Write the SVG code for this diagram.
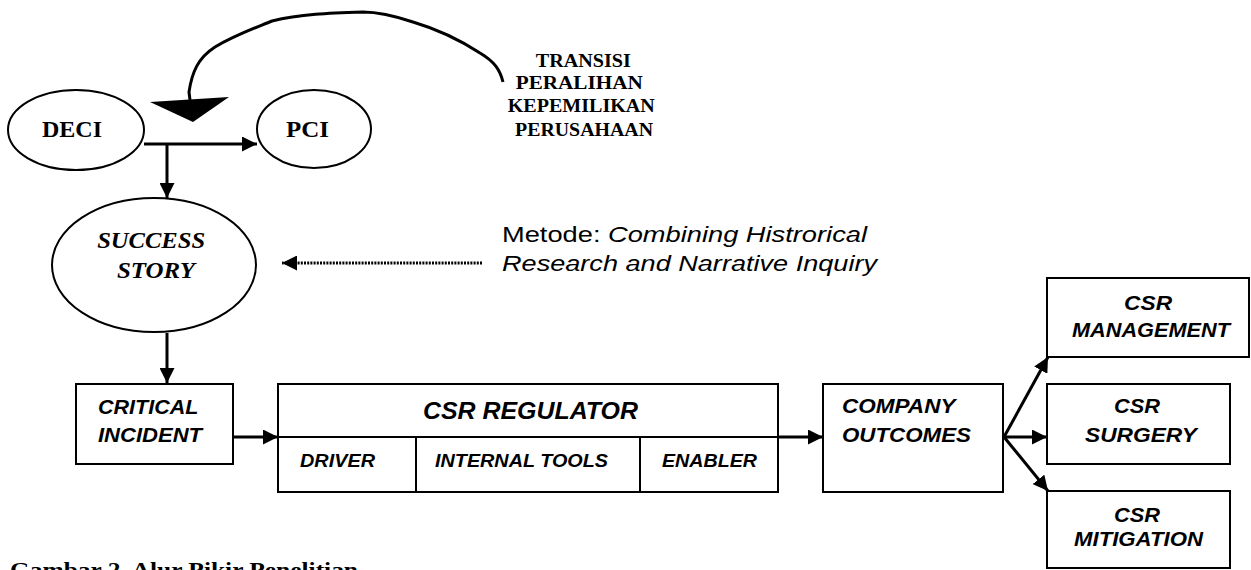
<svg xmlns="http://www.w3.org/2000/svg" width="1251" height="570" viewBox="0 0 1251 570">
<defs>
<style>
.shape{fill:#fff;stroke:#000;stroke-width:2}
.serif{font-family:"Liberation Serif","Times New Roman",serif;font-weight:bold;fill:#000}
.sans{font-family:"Liberation Sans",Arial,sans-serif;font-weight:bold;font-style:italic;fill:#000}
.plain{font-family:"Liberation Sans",Arial,sans-serif;fill:#000}
.con{fill:none;stroke:#000;stroke-width:3}
</style>
<marker id="ah" markerUnits="userSpaceOnUse" markerWidth="15" markerHeight="15" refX="15" refY="7.5" orient="auto">
<path d="M0,0 L15,7.5 L0,15 z" fill="#000"/>
</marker>
</defs>
<rect width="1251" height="570" fill="#fff"/>

<g id="connectors">
<path class="con" d="M144,144 H257" marker-end="url(#ah)"/>
<path class="con" d="M167,144 V198" marker-end="url(#ah)"/>
<path class="con" d="M167,333 V383" marker-end="url(#ah)"/>
<path class="con" d="M233,437 H278" marker-end="url(#ah)"/>
<path class="con" d="M778,437 H823" marker-end="url(#ah)"/>
<path class="con" d="M1004,437 L1048,357" stroke-width="4" marker-end="url(#ah)"/>
<path class="con" d="M1004,437 H1047" marker-end="url(#ah)"/>
<path class="con" d="M1004,437 L1048,491" stroke-width="2" marker-end="url(#ah)"/>
<path class="con" d="M482,263 H282" stroke-width="2.5" stroke-dasharray="2,1.2" marker-end="url(#ah)"/>
<path class="con" d="M190,100 L189,92 C192,72 198,58 215,47 C235,35 255,28 272,21 C300,14 330,13 363,12 C380,12 395,16 413,22 C440,30 460,40 480,53 C495,62 500,70 503,82" stroke-width="2"/>
<polygon points="150,102 229,97 193,122" fill="#000"/>
</g>

<g id="deci">
<ellipse class="shape" cx="76" cy="130" rx="68" ry="40"/>
<text class="serif" x="72" y="137" font-size="23" text-anchor="middle" textLength="60" lengthAdjust="spacingAndGlyphs">DECI</text>
</g>
<g id="pci">
<ellipse class="shape" cx="314" cy="129" rx="57" ry="39"/>
<text class="serif" x="307.5" y="137" font-size="23" text-anchor="middle" textLength="43" lengthAdjust="spacingAndGlyphs">PCI</text>
</g>
<g id="transisi">
<text class="serif" font-size="18" text-anchor="middle">
<tspan x="585.5" y="67" textLength="95" lengthAdjust="spacingAndGlyphs">TRANSISI</tspan>
<tspan x="581.5" y="89" textLength="127" lengthAdjust="spacingAndGlyphs">PERALIHAN</tspan>
<tspan x="583.5" y="112" textLength="147" lengthAdjust="spacingAndGlyphs">KEPEMILIKAN</tspan>
<tspan x="584" y="136" textLength="138" lengthAdjust="spacingAndGlyphs">PERUSAHAAN</tspan>
</text>
</g>
<g id="success-story">
<ellipse class="shape" cx="154" cy="265" rx="102" ry="67"/>
<text class="serif" font-size="23" font-style="italic" text-anchor="middle">
<tspan x="154" y="248" textLength="108" lengthAdjust="spacingAndGlyphs">SUCCESS</tspan>
<tspan x="156" y="278" textLength="78" lengthAdjust="spacingAndGlyphs">STORY</tspan>
</text>
</g>
<g id="metode">
<text class="plain" x="502" y="242" font-size="22" textLength="365" lengthAdjust="spacingAndGlyphs">Metode: <tspan font-style="italic">Combining Histrorical</tspan></text>
<text class="plain" x="502" y="271" font-size="22" font-style="italic" textLength="375" lengthAdjust="spacingAndGlyphs">Research and Narrative Inquiry</text>
</g>
<g id="critical-incident">
<rect class="shape" x="76" y="384" width="157" height="80"/>
<text class="sans" font-size="21">
<tspan x="98" y="414" textLength="100" lengthAdjust="spacingAndGlyphs">CRITICAL</tspan>
<tspan x="98" y="442" textLength="104" lengthAdjust="spacingAndGlyphs">INCIDENT</tspan>
</text>
</g>
<g id="csr-regulator">
<rect class="shape" x="278" y="384" width="500" height="108"/>
<line x1="278" y1="437" x2="778" y2="437" stroke="#000" stroke-width="2"/>
<line x1="416" y1="437" x2="416" y2="492" stroke="#000" stroke-width="2"/>
<line x1="640" y1="437" x2="640" y2="492" stroke="#000" stroke-width="2"/>
<text class="sans" x="423" y="419" font-size="23" textLength="215" lengthAdjust="spacingAndGlyphs">CSR REGULATOR</text>
<text class="sans" x="300" y="467" font-size="18" textLength="75" lengthAdjust="spacingAndGlyphs">DRIVER</text>
<text class="sans" x="435" y="467" font-size="18" textLength="173" lengthAdjust="spacingAndGlyphs">INTERNAL TOOLS</text>
<text class="sans" x="662" y="467" font-size="18" textLength="95" lengthAdjust="spacingAndGlyphs">ENABLER</text>
</g>
<g id="company-outcomes">
<rect class="shape" x="823" y="384" width="180" height="108"/>
<text class="sans" font-size="21">
<tspan x="842" y="413" textLength="113" lengthAdjust="spacingAndGlyphs">COMPANY</tspan>
<tspan x="842" y="442" textLength="129" lengthAdjust="spacingAndGlyphs">OUTCOMES</tspan>
</text>
</g>
<g id="csr-management">
<rect class="shape" x="1047" y="278" width="202" height="79"/>
<text class="sans" font-size="21" text-anchor="middle">
<tspan x="1151" y="310" textLength="48" lengthAdjust="spacingAndGlyphs">CSR</tspan>
<tspan x="1151" y="337" textLength="158" lengthAdjust="spacingAndGlyphs">MANAGEMENT</tspan>
</text>
</g>
<g id="csr-surgery">
<rect class="shape" x="1047" y="384" width="183" height="80"/>
<text class="sans" font-size="21" text-anchor="middle">
<tspan x="1140" y="413" textLength="46" lengthAdjust="spacingAndGlyphs">CSR</tspan>
<tspan x="1141" y="442" textLength="112" lengthAdjust="spacingAndGlyphs">SURGERY</tspan>
</text>
</g>
<g id="csr-mitigation">
<rect class="shape" x="1047" y="491" width="183" height="77"/>
<text class="sans" font-size="21" text-anchor="middle">
<tspan x="1140" y="522" textLength="46" lengthAdjust="spacingAndGlyphs">CSR</tspan>
<tspan x="1138.5" y="546" textLength="129" lengthAdjust="spacingAndGlyphs">MITIGATION</tspan>
</text>
</g>
<g id="caption">
<text class="serif" x="10" y="577" font-size="22" textLength="348" lengthAdjust="spacingAndGlyphs">Gambar 2. Alur Pikir Penelitian</text>
</g>
</svg>
